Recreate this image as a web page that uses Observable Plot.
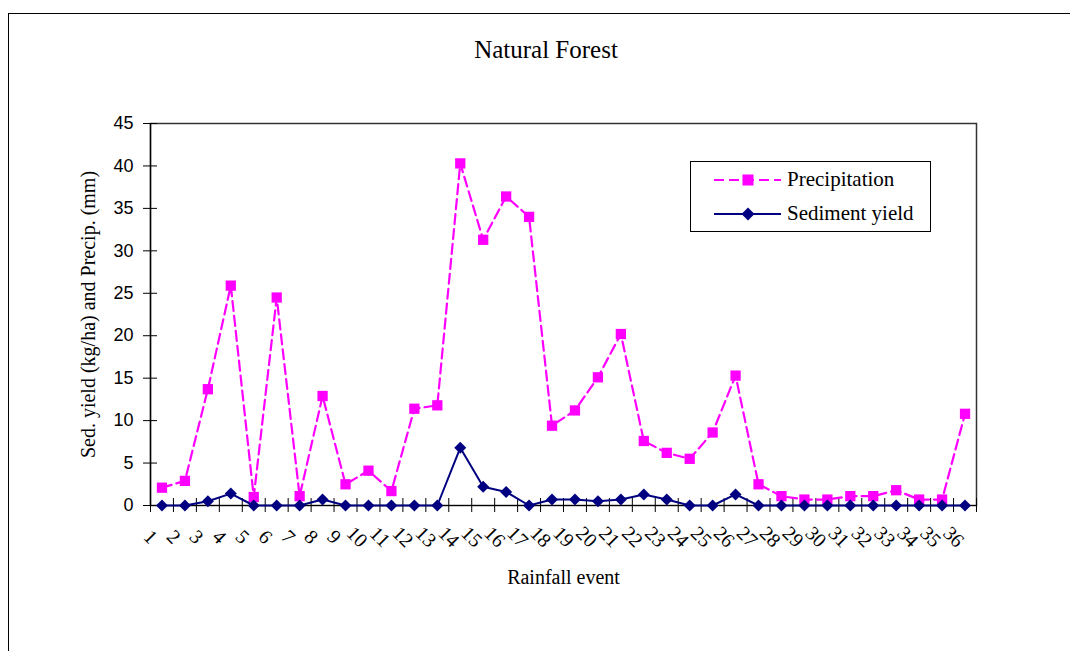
<!DOCTYPE html>
<html>
<head>
<meta charset="utf-8">
<script src="https://cdn.jsdelivr.net/npm/d3@7"></script>
<script src="https://cdn.jsdelivr.net/npm/@observablehq/plot@0.6"></script>
<style>
  html, body { margin: 0; padding: 0; background: #fff; }
  body { width: 1070px; height: 651px; overflow: hidden; position: relative; font-family: "Liberation Serif", "Times New Roman", serif; }
  #outer { position: absolute; left: 8px; top: 13px; width: 1200px; height: 800px; border: 1.5px solid #000; box-sizing: border-box; }
  #title { position: absolute; left: 0; top: 36px; width: 1092px; text-align: center; font-size: 25px; line-height: 28px; color: #000; }
  #chart { position: absolute; left: 0; top: 100px; }
  #legend { position: absolute; left: 690px; top: 161px; width: 241px; height: 71px; border: 1.3px solid #000; box-sizing: border-box; background: #fff; }
  #legend svg { position: absolute; left: 0; top: 0; }
  #legend .item { position: absolute; left: 96px; font-size: 21px; line-height: 24px; white-space: nowrap; }
</style>
</head>
<body>
<div id="outer"></div>
<div id="title">Natural Forest</div>
<div id="chart"></div>
<div id="legend">
  <svg width="241" height="71">
    <line x1="23" x2="90" y1="18" y2="18" stroke="#FF00FF" stroke-width="2" stroke-dasharray="10,5"></line>
    <rect x="51.5" y="12.5" width="11" height="11" fill="#FF00FF"></rect>
    <line x1="23" x2="90" y1="52" y2="52" stroke="#000080" stroke-width="2"></line>
    <path d="M57,45.5 L63.5,52 L57,58.5 L50.5,52 Z" fill="#000080"></path>
  </svg>
  <div class="item" style="top: 5px;">Precipitation</div>
  <div class="item" style="top: 39px;">Sediment yield</div>
</div>
<script>
// Rainfall events and the two measured series
const events = [1, 2, 3, 4, 5, 6, 7, 8, 9, 10, 11, 12, 13, 14, 15, 16, 17, 18,
                19, 20, 21, 22, 23, 24, 25, 26, 27, 28, 29, 30, 31, 32, 33, 34, 35, 36];
const precipitation = [2.1, 2.9, 13.7, 25.9, 1.0, 24.5, 1.1, 12.9, 2.5, 4.1, 1.7, 11.4,
                       11.8, 40.3, 31.3, 36.4, 34.0, 9.4, 11.2, 15.1, 20.2, 7.6, 6.2, 5.5,
                       8.6, 15.3, 2.5, 1.1, 0.7, 0.7, 1.1, 1.1, 1.8, 0.7, 0.7, 10.8];
const sedimentYield = [0, 0, 0.5, 1.4, 0, 0, 0, 0.7, 0, 0, 0, 0,
                       0, 6.8, 2.2, 1.6, 0, 0.7, 0.7, 0.5, 0.7, 1.3, 0.7, 0,
                       0, 1.3, 0, 0, 0, 0, 0, 0, 0, 0, 0, 0];
const yTicks = [0, 5, 10, 15, 20, 25, 30, 35, 40, 45];
// category boundaries for the x tick marks
const xBounds = [0.5, 1.5, 2.5, 3.5, 4.5, 5.5, 6.5, 7.5, 8.5, 9.5, 10.5, 11.5, 12.5,
                 13.5, 14.5, 15.5, 16.5, 17.5, 18.5, 19.5, 20.5, 21.5, 22.5, 23.5, 24.5,
                 25.5, 26.5, 27.5, 28.5, 29.5, 30.5, 31.5, 32.5, 33.5, 34.5, 35.5, 36.5];
const yLabel = "Sed. yield (kg/ha) and Precip. (mm)";
const xLabel = "Rainfall event";

const precipRows = events.map((e, i) => ({event: e, value: precipitation[i]}));
const sedRows = events.map((e, i) => ({event: e, value: sedimentYield[i]}));

const serif = "Liberation Serif, Times New Roman, serif";
const sans = "Liberation Sans, Arial, sans-serif";

const chart = Plot.plot({
  width: 1070,
  height: 551,
  marginLeft: 150,
  marginRight: 94,
  marginTop: 23,
  marginBottom: 146,
  style: {background: "transparent", color: "#000", overflow: "visible"},
  x: {type: "linear", domain: [0.5, 36.5]},
  y: {domain: [0, 45]},
  marks: [
    Plot.frame({stroke: "#333", strokeWidth: 1.5}),
    // y ticks crossing the axis, then labels
    Plot.axisY({ticks: yTicks, tickSize: 14, dx: 7, tickFormat: () => "", label: null, stroke: "#000"}),
    Plot.axisY({ticks: yTicks, tickSize: 0, tickPadding: 17, label: null,
                fontFamily: sans, fontSize: 18}),
    // x ticks at category boundaries, crossing the axis
    Plot.axisX({ticks: xBounds, tickSize: 14, dy: -7, tickFormat: () => "", label: null, stroke: "#000"}),
    Plot.ruleX([0.5], {stroke: "#000", strokeWidth: 1.3}),
    // precipitation: dashed magenta with squares
    Plot.line(precipRows, {x: "event", y: "value", stroke: "#FF00FF", strokeWidth: 2.2,
                           strokeDasharray: "10,5"}),
    Plot.dot(precipRows, {x: "event", y: "value", symbol: "square", r: 5.8, fill: "#FF00FF"}),
    // sediment yield: solid navy with diamonds
    Plot.ruleY([0], {stroke: "#000", strokeWidth: 1}),
    Plot.line(sedRows, {x: "event", y: "value", stroke: "#000080", strokeWidth: 2}),
    Plot.dot(sedRows, {x: "event", y: "value", symbol: "diamond2", r: 5.4, fill: "#000080"}),
    // rotated category labels
    Plot.text(events, {x: d => d, frameAnchor: "bottom", dy: 36, dx: -16, rotate: 45,
                       text: d => String(d), fontFamily: serif, fontSize: 20, textAnchor: "middle"}),
    // axis titles
    Plot.text([xLabel], {frameAnchor: "bottom", dy: 78, text: d => d, fontFamily: serif, fontSize: 20}),
    Plot.text([yLabel], {frameAnchor: "left", dx: -62, rotate: -90, text: d => d,
                         textAnchor: "middle", fontFamily: serif, fontSize: 20})
  ]
});
document.getElementById("chart").appendChild(chart);
</script>
</body>
</html>
